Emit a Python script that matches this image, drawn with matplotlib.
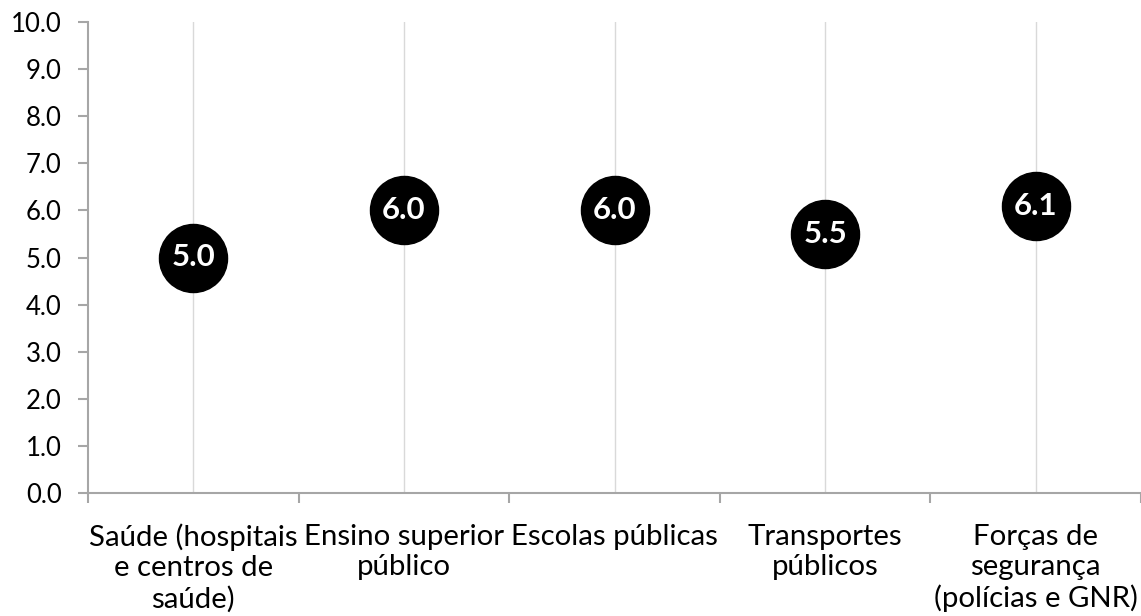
"""
Avaliação dos serviços públicos -- dot chart with value bubbles.
"""
import numpy as np
import matplotlib
matplotlib.use("Agg")
import matplotlib.pyplot as plt

categories = ["Saúde (hospitais\ne centros de\nsaúde)", "Ensino superior\npúblico",
              "Escolas públicas", "Transportes\npúblicos",
              "Forças de\nsegurança\n(polícias e GNR)"]
scores = [5.0, 6.0, 6.0, 5.5, 6.1]
yticks = np.arange(0, 11, 1.0)

plt.rcParams.update({"font.family": ["Lato", "DejaVu Sans"], "text.color": "#000000"})
axis_col = "#a6a6a6"

fig = plt.figure(figsize=(11.41, 6.16), dpi=100)
ax = fig.add_axes([88 / 1141, 123 / 616, 1053 / 1141, 471 / 616])

x = np.arange(len(categories))
for xi in x:
    ax.plot([xi, xi], [0, 10], color="#d9d9d9", lw=1.0, zorder=1)
ax.plot(x, scores, "o", ms=49, color="black", zorder=3, clip_on=False)
for xi, v in zip(x, scores):
    ax.text(xi, v, f"{v:.1f}", color="white", fontsize=22.5, fontweight="bold",
            ha="center", va="center", zorder=4)

ax.set_xlim(-0.5, 4.5)
ax.set_ylim(0, 10)
ax.set_yticks(yticks)
ax.set_yticklabels([f"{t:.1f}" for t in yticks], fontsize=18.5)
ax.set_xticks(x)
ax.set_xticklabels(categories, fontsize=21.2, linespacing=1.2)
ax.set_xticks(np.arange(-0.5, 5.0, 1.0), minor=True)
ax.tick_params(axis="x", which="major", length=0, pad=22)
ax.tick_params(axis="x", which="minor", length=7, width=1.5, color=axis_col)
ax.tick_params(axis="y", length=7, width=1.5, color=axis_col, pad=12)

for s in ["top", "right"]:
    ax.spines[s].set_visible(False)
for s in ["left", "bottom"]:
    ax.spines[s].set_color(axis_col)
    ax.spines[s].set_linewidth(1.5)

fig.savefig("out.png", dpi=100)
